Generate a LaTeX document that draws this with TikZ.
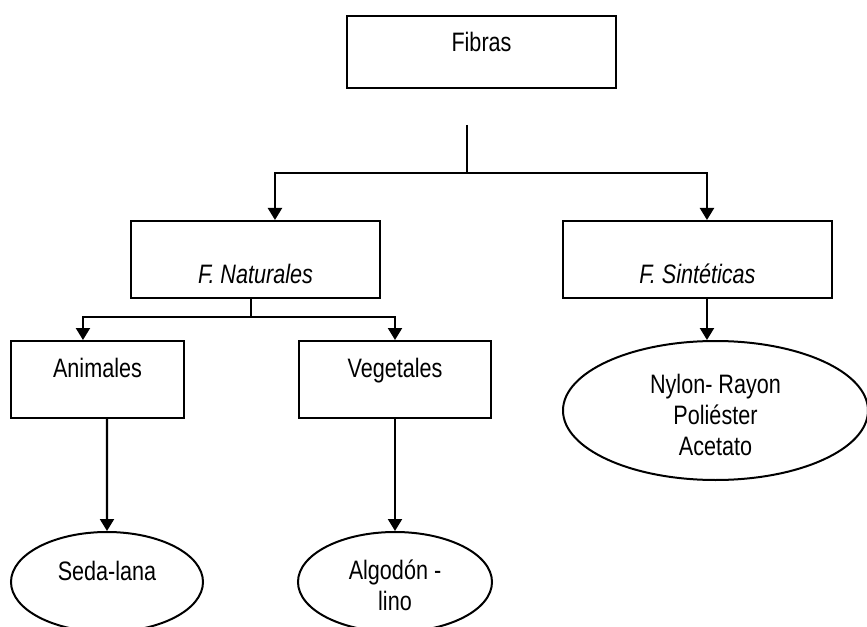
\documentclass[tikz,border=0pt]{standalone}
\usepackage{fontspec}
\setmainfont[FakeStretch=0.81]{Liberation Sans}
\usetikzlibrary{arrows.meta,shapes.geometric}

\tikzset{
  caja/.style={draw, rectangle, line width=1.5pt, inner sep=0pt, minimum height=57.75pt},
  elipse/.style={draw, ellipse, line width=1.5pt, inner sep=0pt, align=center},
  flecha/.style={line width=1.6pt, -{Triangle[length=9pt, width=10.5pt]}},
  linea/.style={line width=1.6pt}
}

\begin{document}
\begin{tikzpicture}[x=0.75pt, y=-0.75pt, font=\fontsize{20}{23}\selectfont]
        \clip (0,0) rectangle (867,627);

        % Boxes
        \node[caja, minimum width=201.75pt, minimum height=54pt, text height=27pt, text depth=27pt] (fibras) at (481.5,52) {Fibras};
        \node[caja, minimum width=186.75pt, text height=46.5pt, text depth=11.25pt] (nat) at (255.5,259.5) {\itshape F. Naturales};
        \node[caja, minimum width=201.75pt, text height=46.5pt, text depth=11.25pt] (sin) at (697.5,259.5) {\itshape F. Sintéticas};
        \node[caja, minimum width=129.75pt, text height=27pt, text depth=30.75pt] (ani) at (97.5,379.5) {Animales};
        \node[caja, minimum width=144pt, text height=27pt, text depth=30.75pt] (veg) at (395,379.5) {Vegetales};

        % Ellipses
        \node[elipse, minimum width=144pt, minimum height=75pt, text height=15pt, text depth=18pt] (seda) at (107,582) {Seda-lana};
        \node[elipse, minimum width=145.5pt, minimum height=75pt, text height=42pt, text depth=0pt] (algo) at (395,582) {Algodón -\\lino};
        \node[elipse, minimum width=228.75pt, minimum height=104.25pt, text height=66.75pt, text depth=0pt] (nyl) at (715.5,410.5) {Nylon- Rayon\\Poliéster\\Acetato};

        % First split
        \coordinate (tallo) at (467,125);
        \coordinate (bus) at (467,173);
        \draw[linea] (tallo) -- (bus);
        \draw[flecha] (bus) -| ([xshift=14.6pt]nat.north);
        \draw[flecha] (bus) -| ([xshift=7.1pt]sin.north);

        % Second split
        \coordinate (nbus) at (251,317);
        \draw[linea] (nbus |- nat.south) -- (nbus);
        \draw[flecha] (nbus) -| ([xshift=-10.9pt]ani.north);
        \draw[flecha] (nbus) -| (veg.north);

        % Down to the ellipses
        \draw[flecha] ([xshift=7.1pt]ani.south) -- (seda.north);
        \draw[flecha] (veg.south) -- (algo.north);
        \coordinate (sbaja) at ([xshift=7.1pt]sin.south);
        \draw[flecha] (sbaja) -- (sbaja |- nyl.north);
    \end{tikzpicture}
\end{document}
